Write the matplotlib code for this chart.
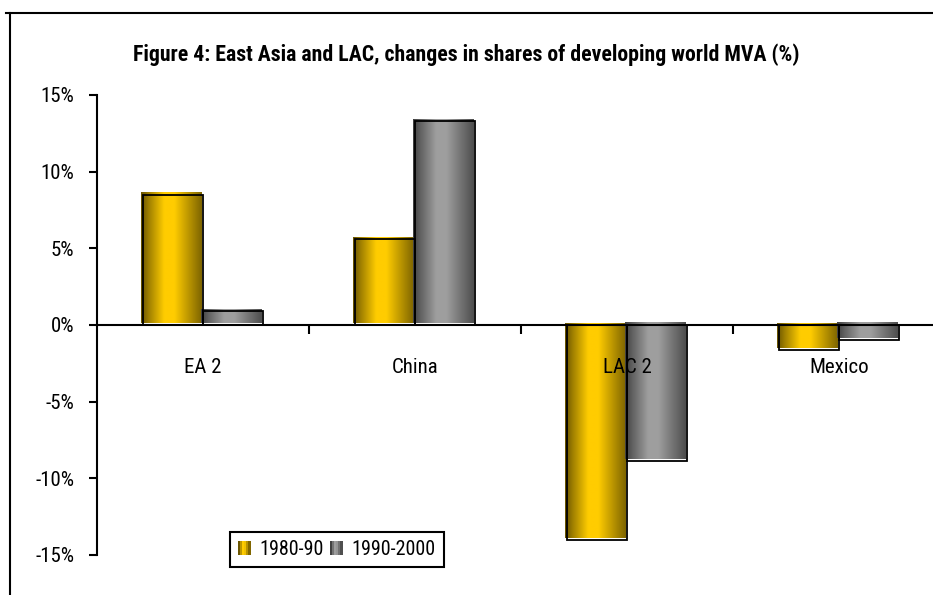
#!/usr/bin/env python3
"""
East Asia and LAC: changes in shares of developing world MVA, 1980-90 vs 1990-2000.
"""

import numpy as np
import matplotlib
matplotlib.use('Agg')
import matplotlib.pyplot as plt
from matplotlib import font_manager
from matplotlib.lines import Line2D
from matplotlib.patches import Rectangle
from matplotlib.legend_handler import HandlerBase
from matplotlib.ticker import FuncFormatter

regions = ['EA 2', 'China', 'LAC 2', 'Mexico']
series_names = ['1980-90', '1990-2000']
change_1980_90 = [8.5, 5.6, -14.0, -1.6]
change_1990_2000 = [0.9, 13.3, -8.9, -1.0]

NARROW_CANDIDATES = ['Liberation Sans Narrow', 'Arial Narrow', 'Nimbus Sans Narrow',
                     'Roboto Condensed', 'Noto Sans Condensed', 'PT Sans Narrow',
                     'Asap Condensed', 'Archivo Narrow']


def pick_family():
    """First narrow family that has both a static regular and bold face."""
    faces = {}
    for f in font_manager.fontManager.ttflist:
        if '[' in f.fname or 'Italic' in f.fname or f.style != 'normal':
            continue
        faces.setdefault(f.name, set()).add(f.weight)
    for name in NARROW_CANDIDATES:
        w = faces.get(name, set())
        if 400 in w and 700 in w:
            return name
    for name in NARROW_CANDIDATES:
        if name in faces:
            return name
    return 'Liberation Sans'


family = pick_family()
plt.rcParams['font.family'] = [family, 'DejaVu Sans']

YELLOW = np.array([1.0, 0.8, 0.0])
GREY = np.array([0.62, 0.62, 0.62])

# brightness profile across a bar, gives the cylinder look
SHADE_POS = [0.0, 0.12, 0.38, 0.55, 0.8, 1.0]
SHADE_VAL = [0.42, 0.62, 1.0, 1.0, 0.72, 0.5]


def shade_strip(base, n=60):
    t = np.linspace(0, 1, n)
    k = np.interp(t, SHADE_POS, SHADE_VAL)
    return np.clip(k[:, None] * base[None, :], 0, 1)[None, :, :]


class GradientHandler(HandlerBase):
    """Legend key drawn as a few vertical shaded stripes."""

    def __init__(self, base, **kw):
        super().__init__(**kw)
        self.base = base

    def create_artists(self, legend, orig_handle, xdescent, ydescent,
                       width, height, fontsize, trans):
        strip = shade_strip(self.base, 6)[0]
        w = width / len(strip)
        arts = []
        for i, c in enumerate(strip):
            r = Rectangle((-xdescent + i * w, -ydescent), w, height,
                          facecolor=c, edgecolor='none', transform=trans)
            arts.append(r)
        return arts


fig = plt.figure(figsize=(9.33, 5.95), dpi=100)
ax = fig.add_axes([97 / 933, 1 - 555 / 595, 848 / 933, 460 / 595])

x = np.arange(len(regions))
width = 0.285

ax.set_xlim(-0.5, len(regions) - 0.5)
ax.set_ylim(-15, 15)

# pixel size in data units, for the offset face of each bar
px_x = (ax.get_xlim()[1] - ax.get_xlim()[0]) / 848
px_y = 30 / 460

bars_a = ax.bar(x - width / 2, change_1980_90, width, facecolor='none',
                edgecolor='black', linewidth=1.3, zorder=3)
bars_b = ax.bar(x + width / 2, change_1990_2000, width, facecolor='none',
                edgecolor='black', linewidth=1.3, zorder=3)

for bars, base in [(bars_a, YELLOW), (bars_b, GREY)]:
    img = shade_strip(base)
    for b in bars:
        bx, by = b.get_x(), b.get_y()
        bw, bh = b.get_width(), b.get_height()
        y0, y1 = sorted([by, by + bh])
        ax.imshow(img, extent=(bx - 2 * px_x, bx + bw - 2 * px_x,
                               y0 + 2 * px_y, y1 + 2 * px_y),
                  aspect='auto', interpolation='bilinear', zorder=2)

ax.set_xlim(-0.5, len(regions) - 0.5)
ax.set_ylim(-15, 15)

# axes styling
for s in ['top', 'right']:
    ax.spines[s].set_visible(False)
ax.spines['bottom'].set_position(('data', 0))
ax.spines['left'].set_linewidth(1.5)
ax.spines['bottom'].set_linewidth(1.5)

ax.set_yticks([-15, -10, -5, 0, 5, 10, 15])
ax.yaxis.set_major_formatter(FuncFormatter(lambda v, p: f"{v:.0f}%"))
ax.tick_params(axis='y', direction='out', length=5.5, width=1.5,
               labelsize=15, pad=11, colors='black')
ax.set_xticks(x[:-1] + 0.5)
ax.set_xticklabels([])
ax.tick_params(axis='x', direction='out', length=6.5, width=1.5)

for xi, name in zip(x, regions):
    ax.text(xi, -2.75, name, ha='center', va='center', fontsize=15,
            zorder=4)

title = fig.text(466 / 933, 1 - 55 / 595,
                 'Figure 4: East Asia and LAC, changes in shares of developing world MVA (%)',
                 ha='center', va='center', fontsize=14, fontweight='bold')
# fit the title to its span across the frame
renderer = fig.canvas.get_renderer()
tw = title.get_window_extent(renderer).width
title.set_fontsize(14 * 667 / tw)

# outer frame (top and left edges)
fig.add_artist(Line2D([6 / 933, 1], [1 - 13 / 595, 1 - 13 / 595],
                      color='black', linewidth=1.5, transform=fig.transFigure))
fig.add_artist(Line2D([10 / 933, 10 / 933], [0, 1 - 13 / 595],
                      color='black', linewidth=1.5, transform=fig.transFigure))

h_a = Rectangle((0, 0), 1, 1)
h_b = Rectangle((0, 0), 1, 1)
leg = ax.legend([h_a, h_b], series_names, ncol=2, fontsize=14.5,
                loc='lower left', bbox_to_anchor=(230 / 933, 1 - 567 / 595),
                bbox_transform=fig.transFigure,
                handler_map={h_a: GradientHandler(YELLOW),
                             h_b: GradientHandler(GREY)},
                handlelength=0.62, handleheight=0.75, handletextpad=0.45,
                columnspacing=0.3, borderpad=0.4, borderaxespad=0,
                fancybox=False, framealpha=1)
leg.get_frame().set_edgecolor('black')
leg.get_frame().set_linewidth(1.5)

plt.savefig('out.png', dpi=100)
